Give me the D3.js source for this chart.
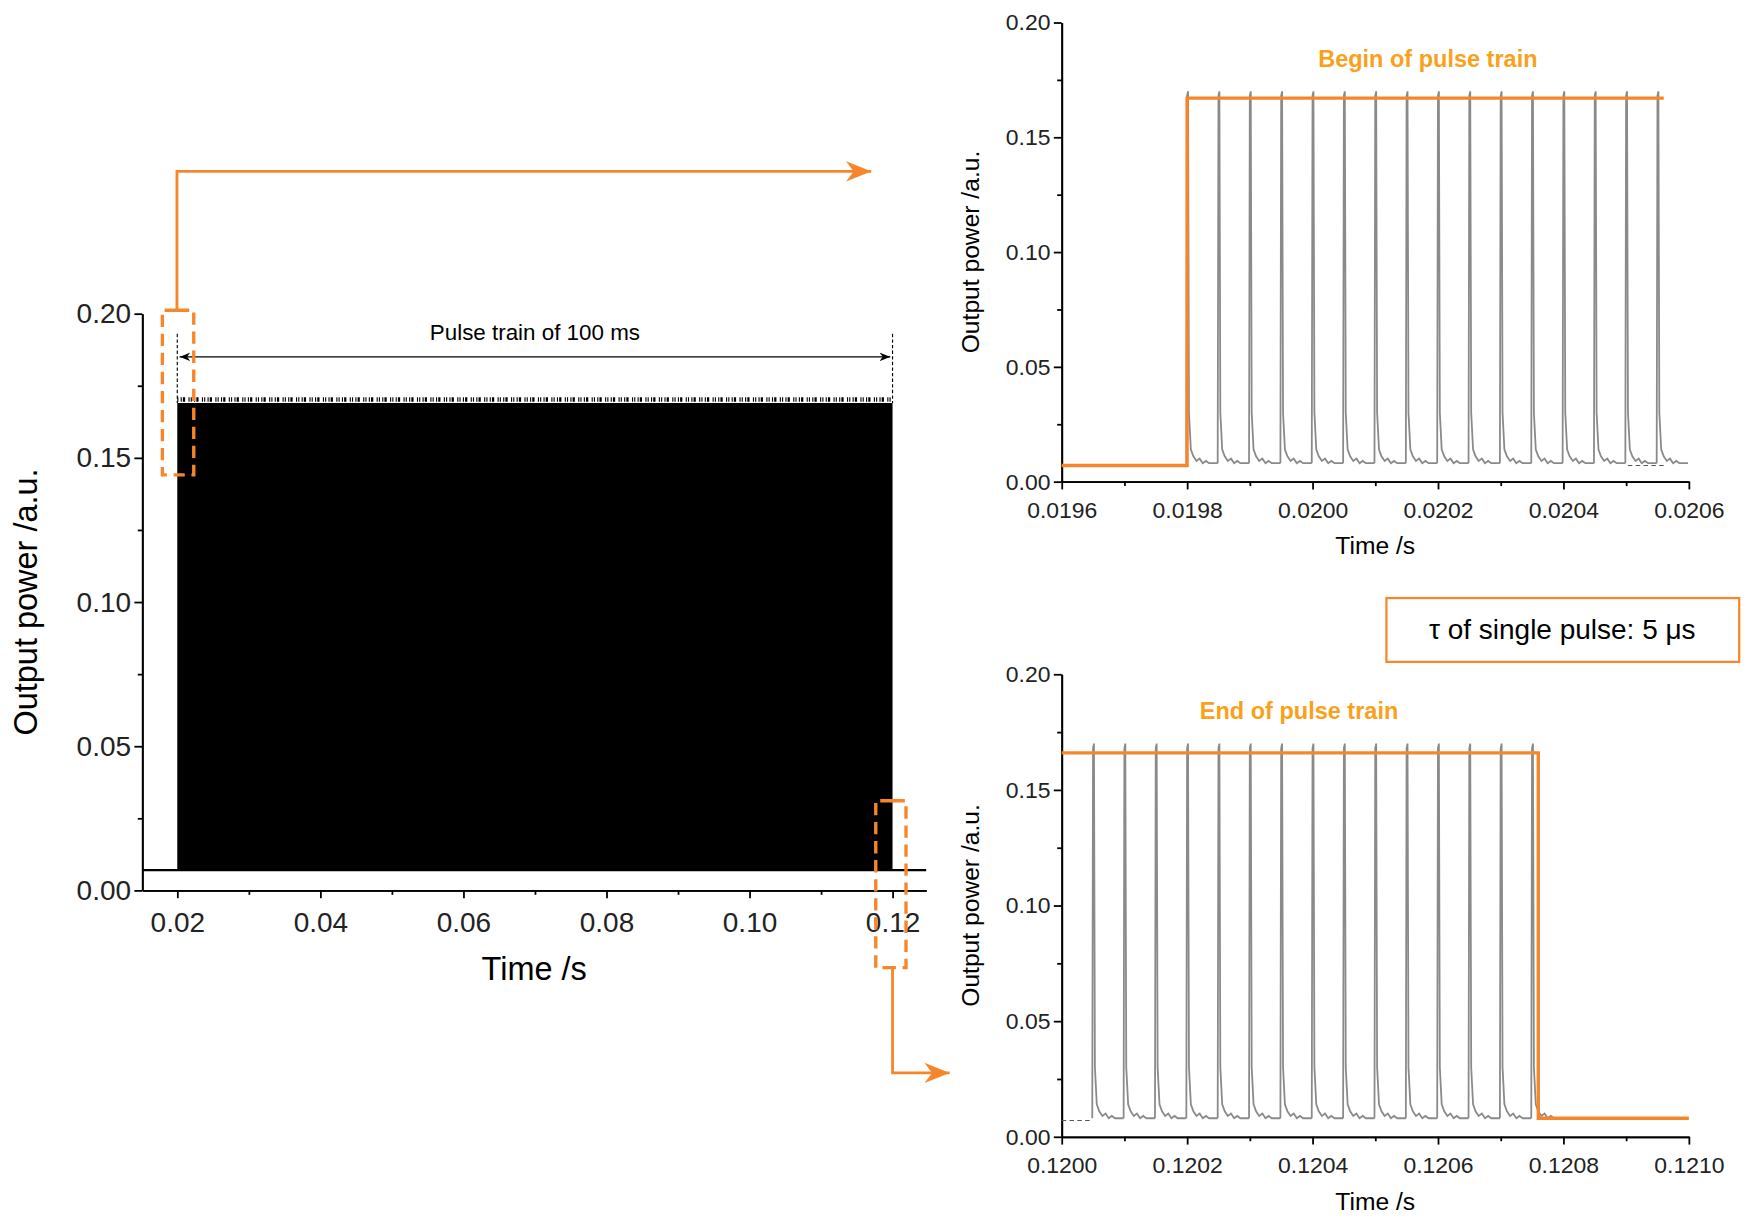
<!DOCTYPE html>
<html><head><meta charset="utf-8">
<script src="https://cdn.jsdelivr.net/npm/d3@7"></script>
<style>body{margin:0;background:#fff}text{font-family:"Liberation Sans",Arial,sans-serif}</style>
</head><body>
<svg id="c" width="1756" height="1223" viewBox="0 0 1568 1092"></svg>
<script>
// main overview
const mainTrain = [0.02, 0.12];      // pulse train start / end (s)
const mainTop = 0.169, mainBase = 0.007;
const mainXTicks = [0.02, 0.04, 0.06, 0.08, 0.10, 0.12];
const yTicks = [0.00, 0.05, 0.10, 0.15, 0.20];

// zoomed: begin of train
const beginPulses = [0.01980, 0.01985, 0.01990, 0.01995, 0.02000, 0.02005, 0.02010, 0.02015,
                     0.02020, 0.02025, 0.02030, 0.02035, 0.02040, 0.02045, 0.02050, 0.02055];
const beginStep = [[0.01960, 0.007], [0.01980, 0.007], [0.01980, 0.167], [0.02056, 0.167]];
const beginXTicks = [0.0196, 0.0198, 0.0200, 0.0202, 0.0204, 0.0206];

// zoomed: end of train
const endPulses = [0.12005, 0.12010, 0.12015, 0.12020, 0.12025, 0.12030, 0.12035, 0.12040,
                   0.12045, 0.12050, 0.12055, 0.12060, 0.12065, 0.12070, 0.12075];
const endStep = [[0.12000, 0.166], [0.12076, 0.166], [0.12076, 0.008], [0.12100, 0.008]];
const endXTicks = [0.1200, 0.1202, 0.1204, 0.1206, 0.1208, 0.1210];

// single pulse shape: [time offset (s), power]
const pulseShape = [[-0.0000012, 0.008], [0, 0.168], [0.0000015, 0.17], [0.000003, 0.03],
  [0.000006, 0.014], [0.00001, 0.011], [0.000015, 0.009], [0.00002, 0.010], [0.000025, 0.008],
  [0.00003, 0.009], [0.000035, 0.008], [0.0000488, 0.008]];

const svg = d3.select("#c");
const orange = "#f7862b";
svg.append("defs").append("marker").attr("id", "ah").attr("viewBox", "0 0 10 10")
  .attr("refX", 10).attr("refY", 5).attr("markerWidth", 9).attr("markerHeight", 9).attr("orient", "auto")
  .append("path").attr("d", "M0,1L10,5L0,9L3,5Z").attr("fill", orange);
svg.select("defs").append("marker").attr("id", "bh").attr("viewBox", "0 0 10 10")
  .attr("refX", 10).attr("refY", 5).attr("markerWidth", 8).attr("markerHeight", 8).attr("orient", "auto-start-reverse")
  .append("path").attr("d", "M0,1L10,5L0,9L3,5Z").attr("fill", "#000");

function axes(g, x, y, xt, xminor, fmtX, fs, ytSize) {
  const ax = g.append("g").attr("transform", `translate(0,${y.range()[0]})`)
    .call(d3.axisBottom(x).tickValues(xt).tickFormat(fmtX).tickSize(7).tickSizeOuter(0));
  g.append("g").attr("transform", `translate(0,${y.range()[0]})`)
    .call(d3.axisBottom(x).tickValues(xminor).tickFormat("").tickSize(4).tickSizeOuter(0));
  const ay = g.append("g").attr("transform", `translate(${x.range()[0]},0)`)
    .call(d3.axisLeft(y).tickValues(yTicks).tickFormat(d3.format(".2f")).tickSize(7).tickSizeOuter(0));
  g.append("g").attr("transform", `translate(${x.range()[0]},0)`)
    .call(d3.axisLeft(y).tickValues([0.025, 0.075, 0.125, 0.175]).tickFormat("").tickSize(4).tickSizeOuter(0));
  g.selectAll(".domain,.tick line").attr("stroke", "#000").attr("stroke-width", 1.6);
  ax.selectAll("text").attr("font-size", fs).attr("dy", "1.1em").attr("fill", "#222");
  ay.selectAll("text").attr("font-size", ytSize).attr("fill", "#222");
}

// ---------- main chart ----------
{
  const g = svg.append("g");
  const x = d3.scaleLinear().domain([0.0151, 0.1247]).range([127, 827]);
  const y = d3.scaleLinear().domain([0, 0.2]).range([795, 280]);
  axes(g, x, y, mainXTicks, d3.range(0.03, 0.121, 0.02), d3.format(".2f"), 25, 25);
  // baseline
  g.append("line").attr("x1", x.range()[0]).attr("x2", x.range()[1])
    .attr("y1", y(mainBase)).attr("y2", y(mainBase)).attr("stroke", "#000").attr("stroke-width", 2);
  g.append("path").datum([[mainTrain[0], mainTop], [mainTrain[1], mainTop]])
    .attr("d", d3.area().x(d => x(d[0])).y0(y(mainBase)).y1(d => y(d[1])))
    .attr("fill", "#000");
  // spiky pulse tops
  g.append("line").attr("x1", x(mainTrain[0])).attr("x2", x(mainTrain[1]))
    .attr("y1", y(0.1702)).attr("y2", y(0.1702)).attr("stroke", "#000").attr("stroke-width", 4)
    .attr("stroke-dasharray", "1,2,1,1,2,3,1,1");
  // 100 ms annotation
  mainTrain.forEach(t => g.append("line").attr("x1", x(t)).attr("x2", x(t)).attr("y1", y(0.193)).attr("y2", y(mainTop))
    .attr("stroke", "#000").attr("stroke-dasharray", "3,2"));
  g.append("line").attr("x1", x(mainTrain[0]) + 2).attr("x2", x(mainTrain[1]) - 2)
    .attr("y1", y(0.185)).attr("y2", y(0.185)).attr("stroke", "#000").attr("stroke-width", 1.2)
    .attr("marker-start", "url(#bh)").attr("marker-end", "url(#bh)");
  g.append("text").attr("x", (x(mainTrain[0]) + x(mainTrain[1])) / 2).attr("y", y(0.191))
    .attr("text-anchor", "middle").attr("font-size", 20).text("Pulse train of 100 ms");
  g.append("text").attr("x", (x.range()[0] + x.range()[1]) / 2).attr("y", 875).attr("text-anchor", "middle")
    .attr("font-size", 29).text("Time /s");
  g.append("text").attr("transform", `translate(33,${y(0.1)}) rotate(-90)`).attr("text-anchor", "middle")
    .attr("font-size", 29).text("Output power /a.u.");
  // orange callouts
  const dash = {fill: "none", stroke: orange, "stroke-width": 3, "stroke-dasharray": "11,6"};
  const r1 = g.append("path").attr("d", "M158,277H145V424H158M158,277H173V424H158");
  const r2 = g.append("path").attr("d", "M797,715H782V864H797M797,715H809V864H797");
  [r1, r2].forEach(r => Object.entries(dash).forEach(([k, v]) => r.attr(k, v)));
  g.append("path").attr("d", "M158,277V153H778").attr("fill", "none").attr("stroke", orange)
    .attr("stroke-width", 2.5).attr("marker-end", "url(#ah)");
  g.append("path").attr("d", "M797,864V958H848").attr("fill", "none").attr("stroke", orange)
    .attr("stroke-width", 2.5).attr("marker-end", "url(#ah)");
}

// ---------- zoomed charts ----------
function zoomChart(top, bottom, domain, pulses, step, xt, title, titleX, tail) {
  const g = svg.append("g");
  const x = d3.scaleLinear().domain(domain).range([948, 1508]);
  const y = d3.scaleLinear().domain([0, 0.2]).range([bottom, top]);
  axes(g, x, y, xt, d3.range(domain[0] + 0.0001, domain[1], 0.0002), d3.format(".4f"), 20.5, 20.5);
  const line = d3.line().x(d => x(d[0])).y(d => y(d[1]));
  g.append("path").datum(tail).attr("d", line).attr("fill", "none").attr("stroke", "#555")
    .attr("stroke-width", 1).attr("stroke-dasharray", "4,3");
  pulses.forEach(t => g.append("path").datum(pulseShape.map(p => [t + p[0], p[1]]))
    .attr("d", line).attr("fill", "none").attr("stroke", "#8a8a8a").attr("stroke-width", 1.6));
  g.append("path").datum(step).attr("d", line).attr("fill", "none").attr("stroke", orange).attr("stroke-width", 3);
  g.append("text").attr("x", titleX).attr("y", top + 40).attr("text-anchor", "middle").attr("font-size", 21)
    .attr("font-weight", "bold").attr("fill", "#f9a11b").text(title);
  g.append("text").attr("x", 1228).attr("y", bottom + 65).attr("text-anchor", "middle").attr("font-size", 22).text("Time /s");
  g.append("text").attr("transform", `translate(874,${(top + bottom) / 2}) rotate(-90)`).attr("text-anchor", "middle")
    .attr("font-size", 22).text("Output power /a.u.");
}
zoomChart(20, 430, [0.0196, 0.0206], beginPulses, beginStep, beginXTicks, "Begin of pulse train", 1275,
  [[0.02056, 0.007], [0.0205, 0.007]]);
zoomChart(602, 1015, [0.1200, 0.1210], endPulses, endStep, endXTicks, "End of pulse train", 1160,
  [[0.1200, 0.007], [0.12005, 0.007]]);

// tau box
svg.append("rect").attr("x", 1238).attr("y", 534).attr("width", 315).attr("height", 57)
  .attr("fill", "#fff").attr("stroke", orange).attr("stroke-width", 2);
svg.append("text").attr("x", 1395).attr("y", 571).attr("text-anchor", "middle").attr("font-size", 25)
  .text("τ of single pulse: 5 μs");
</script>
</body></html>
